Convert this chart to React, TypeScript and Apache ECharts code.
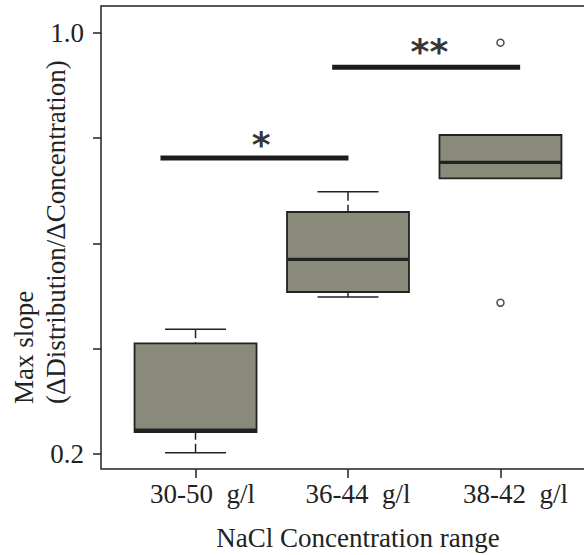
import React, { useEffect, useRef } from "react";
import * as echarts from "echarts";

// ---- data ----
const categories = ["30-50  g/l", "36-44  g/l", "38-42  g/l"];
const lowWhisker = [0.2023, 0.4983, 0.7239];
const q1 = [0.2418, 0.5078, 0.7239];
const median = [0.2456, 0.57, 0.7543];
const q3 = [0.4104, 0.6599, 0.8062];
const highWhisker = [0.437, 0.6984, 0.8062];
const outlierGroup = [3, 3];
const outlierValue = [0.9816, 0.4875];
const yTickValues = [0.2, 0.4, 0.6, 0.8, 1.0];
const yLabelValues = [0.2, 1.0];
const sigFrom = [0.77, 1.896];
const sigTo = [2.003, 3.129];
const sigLevel = [0.7625, 0.9348];
const sigText = ["*", "**"];
const sigTextX = [1.431, 2.534];
const sigTextY = [0.804, 0.98];

const INK = "#222222";
const FILL = "#8a8a7a";
const SERIF = "Liberation Serif";
// horizontal shift (px) of each category label relative to its tick
const labelShift = [14, 20, 30];

export default function App() {
  const ref = useRef<HTMLDivElement>(null);
  useEffect(() => {
    if (!ref.current) return;
    const chart = echarts.init(ref.current, null, { renderer: "svg" });
    const boxData = categories.map((_, i) => [
      i + 1,
      lowWhisker[i],
      q1[i],
      median[i],
      q3[i],
      highWhisker[i],
    ]);
    const rich: any = {};
    labelShift.forEach((s, i) => {
      rich["c" + i] = {
        fontFamily: SERIF,
        fontSize: 27,
        color: INK,
        padding: [0, 0, 0, s],
      };
    });
    const sigSeries: any[] = sigFrom.map((x0, i) => ({
      type: "line",
      silent: true,
      symbol: "none",
      data: [
        [x0, sigLevel[i]],
        [sigTo[i], sigLevel[i]],
      ],
      lineStyle: { color: "#1c1c1c", width: 5, cap: "butt" },
      z: 5,
    }));
    const option: any = {
      animation: false,
      backgroundColor: "#ffffff",
      grid: {
        left: 101,
        top: 6,
        right: -11,
        bottom: 86,
        show: true,
        borderColor: INK,
        borderWidth: 1.5,
        containLabel: false,
        outerBoundsMode: "none",
      },
      xAxis: {
        type: "value",
        min: 0.38,
        max: 3.62,
        splitLine: { show: false },
        axisLine: { show: false },
        axisTick: {
          show: true,
          length: 9,
          lineStyle: { color: INK, width: 1.5 },
          customValues: [1, 2, 3],
        },
        axisLabel: {
          customValues: [1, 2, 3],
          formatter: (v: number) => {
            const i = Math.round(v) - 1;
            return categories[i] ? "{c" + i + "|" + categories[i] + "}" : "";
          },
          rich,
          fontFamily: SERIF,
          fontSize: 27,
          color: INK,
          margin: 11,
        },
        name: "NaCl Concentration range",
        nameLocation: "middle",
        nameGap: 55,
        nameTextStyle: {
          fontFamily: SERIF,
          fontSize: 27,
          color: INK,
          padding: [0, 0, 0, 20],
        },
      },
      yAxis: {
        type: "value",
        min: 0.1715,
        max: 1.0513,
        splitLine: { show: false },
        axisLine: { show: false },
        axisTick: {
          show: true,
          length: 8,
          lineStyle: { color: INK, width: 1.5 },
          customValues: yTickValues,
        },
        axisLabel: {
          customValues: yLabelValues,
          formatter: (v: number) => v.toFixed(1),
          fontFamily: SERIF,
          fontSize: 27,
          color: INK,
          margin: 17,
        },
      },
      graphic: [
        {
          type: "text",
          x: 8,
          y: 404,
          rotation: Math.PI / 2,
          style: {
            text: "Max slope\n(ΔDistribution/ΔConcentration)",
            fontFamily: SERIF,
            fontSize: 27,
            fill: INK,
            textAlign: "left",
            textVerticalAlign: "top",
            lineHeight: 32,
          },
        },
      ],
      series: [
        {
          type: "custom",
          data: boxData,
          encode: { x: 0, y: [1, 2, 3, 4, 5] },
          renderItem: (params: any, api: any) => {
            const x = api.value(0);
            const lo = api.value(1);
            const a = api.value(2);
            const m = api.value(3);
            const b = api.value(4);
            const hi = api.value(5);
            const hw = 0.4;
            const cw = 0.2;
            const tl = api.coord([x - hw, b]);
            const br = api.coord([x + hw, a]);
            const line = (p1: number[], p2: number[], w: number, dash?: number[]) => ({
              type: "line",
              shape: { x1: p1[0], y1: p1[1], x2: p2[0], y2: p2[1] },
              style: { stroke: INK, lineWidth: w, lineDash: dash },
            });
            return {
              type: "group",
              children: [
                line(api.coord([x, hi]), api.coord([x, b]), 1.5, [9, 4]),
                line(api.coord([x, lo]), api.coord([x, a]), 1.5, [9, 4]),
                line(api.coord([x - cw, hi]), api.coord([x + cw, hi]), 1.5),
                line(api.coord([x - cw, lo]), api.coord([x + cw, lo]), 1.5),
                {
                  type: "rect",
                  shape: { x: tl[0], y: tl[1], width: br[0] - tl[0], height: br[1] - tl[1] },
                  style: { fill: FILL, stroke: INK, lineWidth: 1.8 },
                },
                line(api.coord([x - hw, m]), api.coord([x + hw, m]), 3.2),
              ],
            };
          },
          z: 3,
        },
        {
          type: "scatter",
          data: outlierGroup.map((g, i) => [g, outlierValue[i]]),
          symbol: "circle",
          symbolSize: 7,
          itemStyle: { color: "#ffffff", borderColor: INK, borderWidth: 1.5 },
          z: 4,
        },
        ...sigSeries,
        {
          type: "scatter",
          data: sigText.map((t, i) => [sigTextX[i], sigTextY[i], t]),
          symbolSize: 0,
          label: {
            show: true,
            position: "inside",
            formatter: (p: any) => p.value[2],
            fontFamily: "DejaVu Sans",
            fontWeight: "bold",
            fontSize: 36,
            color: "#000000",
            offset: [0, 8],
          },
          z: 6,
        },
      ],
    };
    chart.setOption(option);
    return () => chart.dispose();
  }, []);
  return (
    <div
      ref={ref}
      style={{ position: "absolute", left: 0, top: 0, width: 584, height: 555 }}
    />
  );
}
